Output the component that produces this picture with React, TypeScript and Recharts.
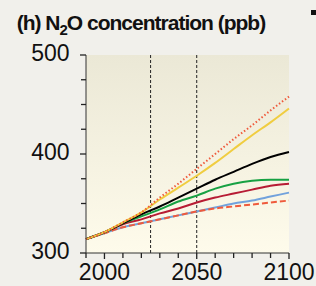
import React from 'react';
import {
  LineChart,
  Line,
  XAxis,
  YAxis,
  CartesianGrid,
  ReferenceLine,
} from 'recharts';

const years = [1990, 2000, 2010, 2020, 2030, 2040, 2050, 2060, 2070, 2080, 2090, 2100];
const redDotted = [314, 321, 331, 341, 356, 370, 385, 400, 415, 429, 444, 458];
const yellow = [314, 321, 331, 341, 354, 366, 378, 391, 405, 419, 432, 446];
const black = [314, 321, 330, 339, 347, 356, 365, 374, 382, 390, 397, 402];
const green = [314, 321, 330, 337, 344, 352, 358, 365, 370, 373, 374, 374];
const darkRed = [314, 321, 329, 334, 340, 345, 351, 356, 360, 364, 368, 370];
const blue = [314, 320, 326, 330, 334, 338, 342, 346, 350, 353, 357, 361];
const redDashed = [314, 320, 326, 330, 334, 338, 342, 345, 347, 349, 351, 353];

const xTicks = [1990, 2000, 2010, 2020, 2030, 2040, 2050, 2060, 2070, 2080, 2090, 2100];
const xLabels = [2000, 2050, 2100];
const yTicks = [300, 325, 350, 375, 400, 425, 450, 475, 500];
const yLabels = [300, 400, 500];
const markers = [2025, 2050];

const data = years.map((year, i) => ({
  year,
  redDotted: redDotted[i],
  yellow: yellow[i],
  black: black[i],
  green: green[i],
  darkRed: darkRed[i],
  blue: blue[i],
  redDashed: redDashed[i],
}));

const font = '"Liberation Sans", Arial, Helvetica, sans-serif';

function XTick({ x, y, payload }: any) {
  const major = xLabels.includes(payload.value);
  return (
    <g>
      <path d={`M${x},${y - 5}V${y - 5 + (major ? 6 : 5)}`} stroke="#222" strokeWidth={1.3} fill="none" />
      {major && (
        <text x={x} y={y + 22} textAnchor="middle" fontSize={23} fontFamily={font} fill="#111">
          {payload.value}
        </text>
      )}
    </g>
  );
}

function YTick({ x, y, payload }: any) {
  const major = yLabels.includes(payload.value);
  return (
    <g>
      <path d={`M${x + 5},${y}H${x + 5 - (major ? 6 : 5)}`} stroke="#222" strokeWidth={1.3} fill="none" />
      {major && (
        <text x={x - 11.5} y={y + 6} textAnchor="end" fontSize={23} fontFamily={font} fill="#111">
          {payload.value}
        </text>
      )}
    </g>
  );
}

export default function App() {
  return (
    <div style={{ position: 'absolute', left: 0, top: 0, width: 316, height: 286, background: '#f1f0eb', overflow: 'hidden' }}>
      <svg width={0} height={0} style={{ position: 'absolute' }}>
        <defs>
          <linearGradient id="plotBg" x1="0" y1="0" x2="0" y2="1">
            <stop offset="0%" stopColor="#ebe8d6" />
            <stop offset="100%" stopColor="#fefbeb" />
          </linearGradient>
        </defs>
      </svg>
      <svg width={316} height={50} style={{ position: 'absolute', left: 0, top: 0 }}>
        <text x={16.7} y={30} fontSize={21} fontWeight="bold" fontFamily={font} letterSpacing={-1} fill="#111">
          (h) N
          <tspan fontSize={15} dy={5}>2</tspan>
          <tspan dy={-5}>O concentration (ppb)</tspan>
        </text>
        <rect x={311} y={10} width={5} height={5} fill="#111" />
      </svg>
      <div style={{ position: 'absolute', left: 0, top: 0 }}>
        <LineChart width={316} height={286} data={data} margin={{ top: 55, right: 27, bottom: 3, left: 0 }}>
          <CartesianGrid horizontal={false} vertical={false} fill="url(#plotBg)" stroke="none" />
          <XAxis
            dataKey="year"
            type="number"
            domain={[1990, 2100]}
            ticks={xTicks}
            interval={0}
            height={30}
            tickSize={5}
            tickMargin={0}
            tickLine={false}
            axisLine={{ stroke: '#333' }}
            tick={<XTick />}
          />
          <YAxis
            type="number"
            domain={[300, 500]}
            ticks={yTicks}
            interval={0}
            width={86}
            tickSize={5}
            tickMargin={0}
            tickLine={false}
            axisLine={{ stroke: '#333' }}
            tick={<YTick />}
          />
          {markers.map((m) => (
            <ReferenceLine key={m} x={m} stroke="#222" strokeDasharray="3 2" strokeWidth={1} />
          ))}
          <Line type="monotone" dataKey="blue" stroke="#72a2dc" strokeWidth={2} dot={false} isAnimationActive={false} />
          <Line type="monotone" dataKey="redDashed" stroke="#ef5a3c" strokeWidth={2} strokeDasharray="6 3" dot={false} isAnimationActive={false} />
          <Line type="monotone" dataKey="darkRed" stroke="#b71c34" strokeWidth={2} dot={false} isAnimationActive={false} />
          <Line type="monotone" dataKey="green" stroke="#17a143" strokeWidth={2} dot={false} isAnimationActive={false} />
          <Line type="monotone" dataKey="black" stroke="#000000" strokeWidth={2} dot={false} isAnimationActive={false} />
          <Line type="monotone" dataKey="yellow" stroke="#f0cd40" strokeWidth={2} dot={false} isAnimationActive={false} />
          <Line type="monotone" dataKey="redDotted" stroke="#ef5a3c" strokeWidth={2} strokeDasharray="1.5 2.2" dot={false} isAnimationActive={false} />
        </LineChart>
      </div>
    </div>
  );
}
